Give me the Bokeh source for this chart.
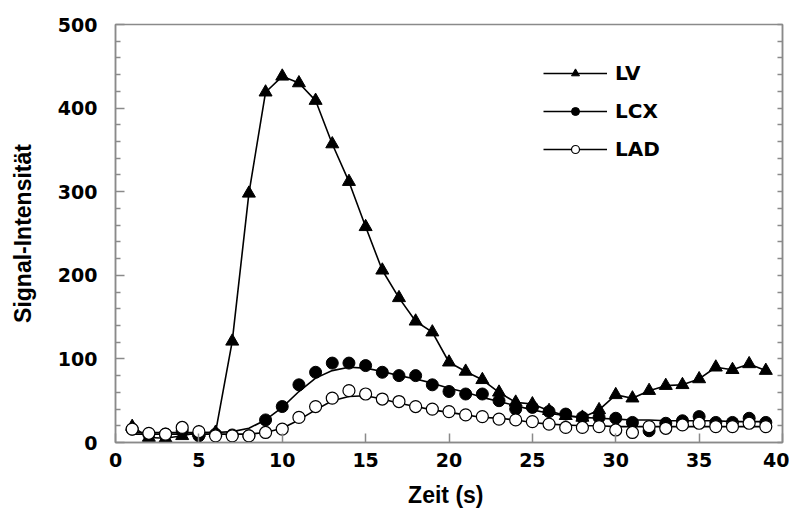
from bokeh.plotting import figure
from bokeh.models import LinearAxis, Range1d, FixedTicker, Legend, LegendItem
from bokeh.embed import file_html
from bokeh.resources import INLINE

t = list(range(1, 40))
lv = [19, 6, 5, 8, 12, 12, 121, 298, 419, 438, 430, 409, 357, 312, 258, 206, 173, 145, 132,
      96, 85, 75, 60, 48, 46, 38, 32, 30, 39, 57, 53, 62, 68, 69, 76, 90, 87, 94, 86]
lcx = [16, 10, 10, 14, 8, 10, 9, 8, 27, 43, 69, 84, 95, 95, 92, 84, 80, 80, 69,
       61, 58, 58, 50, 40, 42, 37, 34, 30, 30, 29, 24, 14, 23, 26, 31, 24, 24, 29, 24]
lad = [16, 11, 10, 18, 13, 8, 8, 8, 12, 16, 30, 43, 53, 62, 58, 52, 49, 43, 40,
       37, 33, 31, 28, 27, 25, 22, 18, 18, 19, 15, 12, 19, 17, 21, 23, 19, 19, 23, 19]
lcx_fit = [12, 12, 12, 12, 12, 12, 13, 17, 27, 42, 61, 77, 86, 90, 89, 85, 80, 76, 71,
           65, 60, 54, 49, 44, 39, 35, 32, 30, 29, 28, 27, 27, 26, 26, 26, 26, 25, 25, 25]
lad_fit = [10, 10, 10, 10, 10, 10, 10, 10, 12, 17, 27, 39, 50, 55, 56, 52, 47, 43, 39,
           36, 33, 30, 29, 27, 24, 22, 21, 20, 20, 19, 19, 19, 19, 19, 19, 19, 19, 19, 19]
x_ticks = [0, 5, 10, 15, 20, 25, 30, 35, 40]
y_ticks = [0, 100, 200, 300, 400, 500]
y_minor = [20, 40, 60, 80, 120, 140, 160, 180, 220, 240, 260, 280, 320, 340, 360, 380, 420, 440, 460, 480]

AX = "#8a8a8a"
TICKFONT = "DejaVu Sans"
LABELFONT = "Liberation Sans"

p = figure(width=789, height=510, output_backend="svg", toolbar_location=None,
           x_range=Range1d(0, 40), y_range=Range1d(0, 500),
           min_border_left=115, min_border_right=7, min_border_top=24, min_border_bottom=67)
p.xgrid.visible = False
p.ygrid.visible = False
p.outline_line_color = AX
p.outline_line_width = 1.5

def style(ax):
    ax.axis_line_color = AX
    ax.axis_line_width = 1.5
    ax.major_tick_line_color = AX
    ax.minor_tick_line_color = AX
    ax.major_tick_line_width = 1.5
    ax.minor_tick_line_width = 1.5
    ax.major_tick_in = 9
    ax.major_tick_out = 0
    ax.minor_tick_in = 5
    ax.minor_tick_out = 0
    ax.major_label_text_font = TICKFONT
    ax.major_label_text_font_style = "bold"
    ax.major_label_text_font_size = "19px"
    ax.major_label_text_color = "black"
    ax.axis_label_text_font = LABELFONT
    ax.axis_label_text_font_style = "bold"
    ax.axis_label_text_font_size = "23px"
    ax.axis_label_text_color = "black"

p.xaxis.ticker = FixedTicker(ticks=x_ticks)
p.yaxis.ticker = FixedTicker(ticks=y_ticks, minor_ticks=y_minor)
style(p.xaxis[0])
style(p.yaxis[0])
p.xaxis.axis_label = "Zeit  (s)"
p.yaxis.axis_label = "Signal-Intensität"
p.xaxis.major_label_standoff = 10
p.yaxis.major_label_standoff = 18
p.xaxis.axis_label_standoff = 12
p.yaxis.axis_label_standoff = 19

ra = LinearAxis(ticker=FixedTicker(ticks=y_ticks, minor_ticks=y_minor))
style(ra)
ra.major_label_overrides = {v: "" for v in y_ticks}
ra.major_tick_in = 5
p.add_layout(ra, "right")

r_lv_line = p.line(t, lv, line_color="black", line_width=1.6)
r_lv_pts = p.scatter(t, lv, marker="triangle", size=13, fill_color="black", line_color="black")
r_lcx_line = p.line(t, lcx_fit, line_color="black", line_width=1.6)
r_lcx_pts = p.scatter(t, lcx, marker="circle", size=12, fill_color="black", line_color="black")
r_lad_line = p.line(t, lad_fit, line_color="black", line_width=1.6)
r_lad_pts = p.scatter(t, lad, marker="circle", size=12, fill_color="white", line_color="black", line_width=1.2)

legend = Legend(items=[
    LegendItem(label="LV", renderers=[r_lv_line, r_lv_pts]),
    LegendItem(label="LCX", renderers=[r_lcx_line, r_lcx_pts]),
    LegendItem(label="LAD", renderers=[r_lad_line, r_lad_pts]),
], location=(428, 281))
legend.border_line_color = None
legend.background_fill_alpha = 0
legend.padding = 0
legend.margin = 0
legend.spacing = 14
legend.glyph_width = 64
legend.glyph_height = 20
legend.label_standoff = 8
legend.label_text_font = TICKFONT
legend.label_text_font_style = "bold"
legend.label_text_font_size = "20px"
legend.label_text_color = "black"
p.add_layout(legend)

open("out.html", "w").write(file_html(p, INLINE))
